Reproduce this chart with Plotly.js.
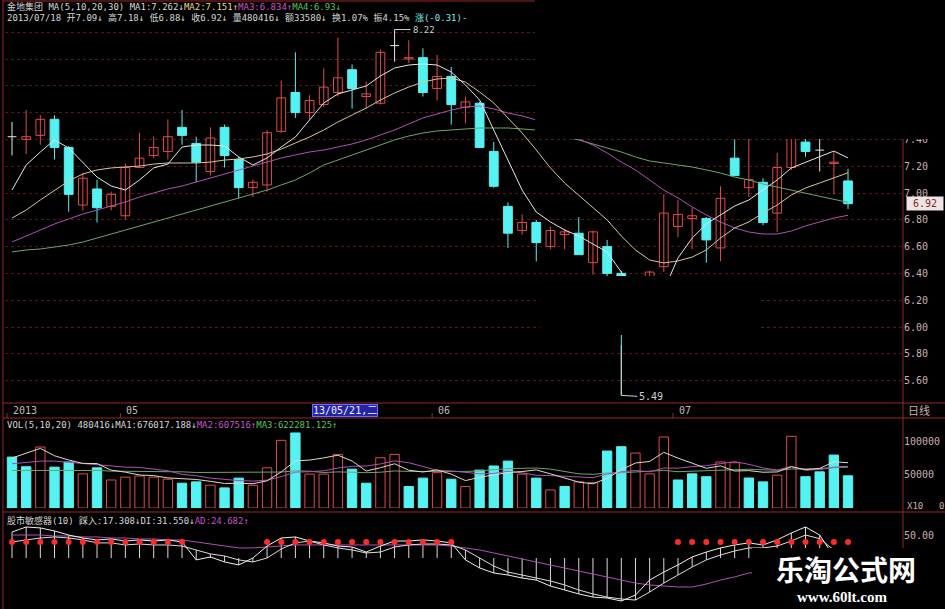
<!DOCTYPE html>
<html>
<head>
<meta charset="utf-8">
<script src="https://cdn.plot.ly/plotly-3.0.1.min.js"></script>
<style>
html,body{margin:0;padding:0;background:#000;}
#chart{width:945px;height:609px;}
</style>
</head>
<body>
<div id="chart"></div>
<script>
// ---- daily candles, 金地集团 (index 0 .. 59, last = 2013/07/18) ----
const opens  = [7.42,7.40,7.43,7.55,7.34,6.91,7.03,6.90,6.83,7.19,
                7.28,7.31,7.49,7.37,7.16,7.49,7.25,7.04,7.06,7.46,
                7.75,7.60,7.66,7.75,7.92,7.72,7.67,8.10,8.00,8.01,
                7.78,7.87,7.64,7.67,7.31,6.90,6.72,6.78,6.60,6.69,
                6.70,6.48,6.60,6.40,6.05,6.20,6.45,6.75,6.81,6.81,
                6.59,7.26,7.04,7.08,6.85,7.19,7.38,7.32,7.22,7.09];
const highs  = [7.53,7.62,7.58,7.58,7.35,7.15,7.10,7.01,7.22,7.45,
                7.42,7.55,7.62,7.42,7.49,7.51,7.27,7.10,7.47,7.84,
                8.05,7.73,7.93,8.16,7.96,7.83,8.07,8.22,8.14,8.08,
                8.03,7.94,7.72,7.68,7.38,6.93,6.84,6.80,6.75,6.73,
                6.82,6.72,6.65,6.42,6.33,6.42,6.99,6.95,6.89,6.82,
                7.05,7.40,7.42,7.11,7.30,7.62,7.50,7.42,7.31,7.18];
const lows   = [7.28,7.29,7.36,7.25,6.86,6.87,6.78,6.87,6.80,7.19,
                7.26,7.25,7.36,7.08,7.13,7.19,6.96,6.97,7.01,7.45,
                7.56,7.55,7.64,7.72,7.63,7.63,7.66,7.98,7.97,7.72,
                7.69,7.51,7.52,7.34,7.04,6.59,6.69,6.49,6.58,6.58,
                6.54,6.39,6.38,5.49,6.00,6.15,6.41,6.67,6.58,6.48,
                6.49,7.13,6.97,6.76,6.71,7.17,7.27,7.16,6.99,6.88];
const closes = [7.42,7.42,7.55,7.34,6.99,7.11,6.89,6.99,7.19,7.26,
                7.34,7.42,7.43,7.23,7.41,7.28,7.04,7.08,7.45,7.71,
                7.60,7.69,7.79,7.86,7.78,7.74,8.05,8.10,8.01,7.75,
                7.87,7.66,7.68,7.34,7.05,6.70,6.78,6.63,6.72,6.71,
                6.54,6.71,6.40,6.00,6.30,6.41,6.85,6.84,6.83,6.65,
                6.96,7.13,7.10,6.78,7.19,7.54,7.31,7.32,7.23,6.92];

// price moving averages MA(5,10,20,30)
const ma5  = [7.022,7.209,7.306,7.396,7.336,7.231,7.119,7.052,7.022,7.097,
              7.187,7.216,7.343,7.358,7.358,7.351,7.269,7.209,7.261,7.343,
              7.418,7.545,7.672,7.739,7.769,7.799,7.873,7.933,7.955,7.963,
              7.955,7.903,7.806,7.694,7.470,7.246,7.022,6.858,6.784,6.724,
              6.679,6.619,6.560,6.410,6.276,6.201,6.276,6.515,6.664,6.769,
              6.836,6.903,6.948,7.022,7.097,7.187,7.231,7.269,7.313,7.262];
const ma10 = [6.813,6.873,6.948,7.022,7.090,7.142,7.172,7.187,7.194,7.201,
              7.216,7.224,7.224,7.224,7.231,7.246,7.254,7.269,7.291,7.328,
              7.373,7.418,7.470,7.530,7.582,7.634,7.694,7.746,7.791,7.828,
              7.851,7.858,7.828,7.754,7.672,7.560,7.448,7.321,7.187,7.075,
              6.985,6.888,6.799,6.679,6.575,6.500,6.478,6.493,6.522,6.575,
              6.664,6.739,6.784,6.851,6.910,6.985,7.037,7.075,7.112,7.151];
const ma20 = [6.634,6.679,6.724,6.769,6.806,6.843,6.873,6.903,6.933,6.970,
              7.000,7.030,7.052,7.082,7.112,7.142,7.172,7.201,7.231,7.261,
              7.284,7.306,7.321,7.343,7.366,7.396,7.433,7.470,7.515,7.560,
              7.590,7.619,7.642,7.649,7.627,7.597,7.575,7.545,7.493,7.448,
              7.403,7.358,7.299,7.231,7.172,7.097,7.022,6.963,6.896,6.836,
              6.784,6.739,6.709,6.694,6.694,6.716,6.754,6.784,6.813,6.834];
const ma30 = [6.560,6.575,6.582,6.597,6.612,6.634,6.664,6.694,6.724,6.754,
              6.784,6.813,6.843,6.873,6.903,6.933,6.963,6.993,7.022,7.060,
              7.097,7.149,7.209,7.246,7.284,7.321,7.358,7.396,7.425,7.448,
              7.463,7.470,7.478,7.485,7.485,7.485,7.478,7.470,7.448,7.418,
              7.396,7.366,7.336,7.306,7.269,7.239,7.224,7.209,7.194,7.172,
              7.149,7.119,7.097,7.067,7.045,7.022,7.000,6.978,6.955,6.930];

// volume (lots) and its MA(5,10,20); 1 = up bar (hollow red), 0 = down bar (cyan)
const volume = [760000,616000,910000,610000,686000,510000,600000,418000,460000,478000,
                460000,430000,370000,390000,340000,300000,446000,340000,600000,1010000,
                1120000,506000,506000,800000,580000,370000,750000,800000,320000,446000,
                527000,430000,320000,566000,627000,700000,506000,446000,270000,320000,
                390000,378000,850000,915000,820000,510000,1060000,418000,510000,467000,
                687000,676000,448000,390000,490000,1070000,467000,540000,790000,480416];
const volUp  = [0,0,1,0,0,1,0,1,1,1, 1,1,0,0,1,0,0,1,1,1,
                0,1,1,1,0,0,1,1,0,0, 1,0,1,0,0,0,1,0,1,0,
                1,1,0,0,1,1,1,0,0,0, 1,1,0,0,1,1,0,0,0,0];
const volMa5  = [746000,820000,890000,780000,716000,666000,663000,565000,535000,493000,
                 483000,449000,440000,426000,398000,366000,369000,363000,405000,539000,
                 703000,715000,748000,788000,702000,552000,601000,660000,564000,537000,
                 569000,505000,409000,458000,494000,529000,544000,569000,510000,448000,
                 386000,361000,442000,571000,671000,695000,831000,745000,664000,593000,
                 628000,552000,558000,534000,538000,615000,573000,591000,690000,676017.188];
const volMa10 = [660000,680000,700000,700000,680000,660000,640000,620000,610000,605000,
                 575000,556000,503000,481000,446000,425000,409000,402000,416000,469000,
                 535000,542000,556000,597000,621000,628000,658000,704000,676000,620000,
                 561000,553000,535000,511000,516000,549000,525000,489000,484000,471000,
                 458000,453000,506000,541000,560000,541000,596000,594000,618000,632000,
                 662000,692000,652000,599000,566000,622000,563000,575000,603000,607516];
const volMa20 = [560000,560000,570000,570000,570000,560000,560000,550000,550000,550000,
                 540000,540000,540000,530000,530000,530000,530000,530000,532000,537000,
                 555000,549000,530000,539000,534000,527000,534000,553000,546000,545000,
                 548000,548000,546000,554000,569000,589000,592000,597000,580000,546000,
                 510000,503000,521000,526000,538000,545000,561000,542000,551000,552000,
                 560000,573000,579000,570000,563000,582000,580000,585000,611000,622281.125];

// 股市敏感器(10): 踩入, DI, AD lines and the red signal dots
const caiRu  = [52.9,56.6,55.9,53.7,50.7,48.5,47.1,47.8,46.3,47.1,
                46.3,47.1,45.6,32.4,34.6,30.9,28.7,33.8,42.6,48.5,
                49.3,46.3,44.9,42.6,41.9,38.2,42.6,46.3,46.3,47.1,
                46.3,44.9,32.4,26.5,22.8,21.3,19.1,17.6,13.2,10.3,
                7.4,5.1,4.4,2.2,6.6,17.6,23.5,28.7,34.6,38.2,
                41.2,43.4,44.9,43.4,47.1,52.2,56.6,50.7,35.0,17.308];
const diLine = [45.6,47.1,48.5,49.3,48.5,47.1,44.9,44.9,43.4,44.1,
                43.4,43.4,42.6,39.7,36.8,35.3,32.4,30.9,33.8,40.4,
                44.9,46.3,43.4,41.2,39.7,37.5,38.2,41.9,43.4,44.1,
                44.1,43.4,39.7,33.8,27.9,23.5,21.3,19.1,16.9,14.0,
                10.3,7.4,5.1,3.7,2.9,8.8,15.4,21.3,27.2,32.4,
                36.0,39.0,41.2,41.2,42.6,46.3,50.7,48.0,40.0,31.55];
const adLine = [50.7,50.7,50.7,50.0,50.0,49.3,49.3,48.5,48.5,47.8,
                47.8,47.1,47.1,45.6,44.1,42.6,41.2,41.2,41.9,42.6,
                43.4,43.4,43.4,43.4,43.4,43.4,43.4,43.4,43.4,43.4,
                43.4,42.6,41.2,39.7,37.5,35.3,33.1,30.9,28.7,26.5,
                24.3,22.1,19.9,17.6,15.4,14.0,13.2,12.5,12.5,14.7,
                17.6,19.9,22.8,23.3,23.7,24.0,24.3,24.5,24.6,24.682];
const dotOn  = [1,1,1,1,1,1,1,1,1,1, 1,1,1,0,0,0,0,0,1,1,
                1,1,1,1,1,1,1,1,1,1, 1,1,0,0,0,0,0,0,0,0,
                0,0,0,0,0,0,0,1,1,1, 1,1,1,1,1,1,1,1,1,1];

// axis labels
const dateTickIdx  = [0, 8, 30, 47];
const dateTickText = ['2013', '05', '06', '07'];
const cursorIdx = 21, cursorText = '13/05/21,二';
const priceTicks = [5.6,5.8,6.0,6.2,6.4,6.6,6.8,7.0,7.2,7.4,7.6,7.8,8.0,8.2];
const volTicks = [50000, 100000];
const stockName = '金地集团', lastDate = '2013/07/18';
const lastAmount = 33580, lastTurnover = 1.07;

// ---- drawing ----
const W = 945, H = 609;
const px = x => x / W, py = y => 1 - y / H;
const N = closes.length;
const idx = closes.map((_, i) => i);
const CYAN = '#56f2f2', RED = '#e04a4a', WHITE = '#e6e6e6', TAN = '#d8c49a',
      PURPLE = '#b050b8', GREEN = '#6aa865', GRID = '#5a1616', FRAME = '#9a2626',
      TXT = '#d6d6d6', AXT = '#c8b0b0';
const FONT = 'DejaVu Sans Mono, Noto Sans CJK SC, monospace';
const STICK_BASE = 33.8, DOT_LEVEL = 45.6;

const isUp = i => closes[i] > opens[i];
const isDown = i => closes[i] < opens[i];
const isFlat = i => closes[i] === opens[i];

function wicks(sel, color) {
  const x = [], y = [];
  for (let i = 0; i < N; i++) if (sel(i)) { x.push(i, i, null); y.push(lows[i], highs[i], null); }
  return {type: 'scatter', mode: 'lines', x, y, xaxis: 'x', yaxis: 'y', line: {color, width: 1}, hoverinfo: 'skip'};
}
const bx = [], bBase = [], bLen = [], bFill = [], bLine = [];
for (let i = 0; i < N; i++) {
  if (isFlat(i)) continue;
  bx.push(i);
  bBase.push(Math.min(opens[i], closes[i]));
  bLen.push(Math.abs(closes[i] - opens[i]));
  bFill.push(isUp(i) ? '#000' : CYAN);
  bLine.push(isUp(i) ? RED : CYAN);
}
const dx = [], dy = [];
for (let i = 0; i < N; i++) if (isFlat(i)) { dx.push(i - 0.31, i + 0.31, null); dy.push(opens[i], opens[i], null); }

const maLine = (y, color, yaxis) => ({type: 'scatter', mode: 'lines', x: idx, y, xaxis: 'x', yaxis,
  line: {color, width: 1}, hoverinfo: 'skip'});

// indicator sticks between the base level and the two lines
const sx = [], sy = [];
for (let i = 0; i < N; i++) {
  const lo = Math.min(STICK_BASE, caiRu[i], diLine[i]);
  const hi = Math.max(STICK_BASE, caiRu[i], diLine[i]);
  sx.push(i, i, null); sy.push(lo, hi, null);
}
const dotX = idx.filter(i => dotOn[i]);

const traces = [
  wicks(isUp, RED), wicks(isDown, CYAN), wicks(isFlat, WHITE),
  {type: 'bar', x: bx, base: bBase, y: bLen, xaxis: 'x', yaxis: 'y', width: 0.62,
   marker: {color: bFill, line: {color: bLine, width: 1}}, hoverinfo: 'skip'},
  {type: 'scatter', mode: 'lines', x: dx, y: dy, xaxis: 'x', yaxis: 'y', line: {color: WHITE, width: 1}, hoverinfo: 'skip'},
  maLine(ma30, GREEN, 'y'), maLine(ma20, PURPLE, 'y'), maLine(ma10, TAN, 'y'), maLine(ma5, WHITE, 'y'),

  {type: 'bar', x: idx, y: volume.map(v => v / 10), xaxis: 'x', yaxis: 'y2', width: 0.66,
   marker: {color: volUp.map(u => u ? '#000' : CYAN), line: {color: volUp.map(u => u ? RED : CYAN), width: 1}},
   hoverinfo: 'skip'},
  maLine(volMa20.map(v => v / 10), GREEN, 'y2'),
  maLine(volMa10.map(v => v / 10), PURPLE, 'y2'),
  maLine(volMa5.map(v => v / 10), '#e2d8c8', 'y2'),

  {type: 'scatter', mode: 'lines', x: sx, y: sy, xaxis: 'x', yaxis: 'y3', line: {color: '#d8d8d8', width: 1}, hoverinfo: 'skip'},
  maLine(adLine, PURPLE, 'y3'),
  maLine(diLine, '#dcdcdc', 'y3'),
  maLine(caiRu, '#f0f0f0', 'y3'),
  {type: 'scatter', mode: 'markers', x: dotX, y: dotX.map(() => DOT_LEVEL), xaxis: 'x', yaxis: 'y3',
   marker: {color: '#ff2a2a', size: 6}, hoverinfo: 'skip'}
];

// number formatting as shown by the trading terminal
const trim = v => v.toFixed(3).replace(/\.?0+$/, '');
const dir = a => a[N - 1] >= a[N - 2] ? '↑' : '↓';
const span = (t, c) => `<span style="color:${c}">${t}</span>`;
const L = N - 1;
const prevClose = closes[L - 1];
const change = closes[L] - prevClose;
const amplitude = (highs[L] - lows[L]) / prevClose * 100;

const head1 = span(`${stockName} MA(5,10,20,30) MA1:${trim(ma5[L])}${dir(ma5)}`, TXT) +
  span(`MA2:${trim(ma10[L])}${dir(ma10)}`, '#e6d48a') +
  span(`MA3:${trim(ma20[L])}${dir(ma20)}`, '#d050d0') +
  span(`MA4:${trim(ma30[L])}${dir(ma30)}`, '#58c058');
const head2 = span(`${lastDate} 开${opens[L].toFixed(2)}${dir(opens)} 高${highs[L].toFixed(2)}${dir(highs)} ` +
  `低${lows[L].toFixed(2)}${dir(lows)} 收${closes[L].toFixed(2)}${dir(closes)} 量${volume[L]}${dir(volume)} ` +
  `额${lastAmount}↓ 换${lastTurnover.toFixed(2)}% 振${amplitude.toFixed(2)}% `, TXT) +
  span(`涨(${change.toFixed(2)})-`, '#7ee8e8');
const volHead = span(`VOL(5,10,20) ${volume[L]}${dir(volume)}MA1:${trim(volMa5[L])}${dir(volMa5)}`, TXT) +
  span(`MA2:${trim(volMa10[L])}${dir(volMa10)}`, '#c850c8') +
  span(`MA3:${trim(volMa20[L])}${dir(volMa20)}`, '#58c058');
const indHead = span(`股市敏感器(10) 踩入:${caiRu[L].toFixed(3)}${dir(caiRu)}DI:${diLine[L].toFixed(3)}${dir(diLine)}`, TXT) +
  span(`AD:${adLine[L].toFixed(3)}${dir(adLine)}`, '#c850c8');

const iMax = highs.indexOf(Math.max(...highs));
const iMin = lows.indexOf(Math.min(...lows));

const textAnn = (x, y, text, opt) => Object.assign({xref: 'paper', yref: 'paper', x, y, text, showarrow: false,
  xanchor: 'left', yanchor: 'middle', font: {family: FONT, size: 10, color: TXT}}, opt || {});
const HEAD_FONT = {family: FONT, size: 9, color: TXT};

const annotations = [
  textAnn(px(5), py(7), head1, {font: HEAD_FONT}),
  textAnn(px(5), py(18), head2, {font: HEAD_FONT}),
  textAnn(px(5), py(425), volHead, {font: HEAD_FONT}),
  textAnn(px(5), py(520), indHead, {font: HEAD_FONT}),
  textAnn(px(906), py(411), '日线', {font: {family: FONT, size: 11, color: AXT}}),
  textAnn(px(905), py(506), 'X10', {font: {family: FONT, size: 9, color: AXT}}),
  textAnn(px(937), py(506), '0', {font: {family: FONT, size: 9, color: AXT}}),
  // last price tag
  {xref: 'paper', yref: 'y', x: px(906), y: closes[L], text: closes[L].toFixed(2), showarrow: false,
   xanchor: 'left', yanchor: 'middle', bgcolor: '#eee4e4', borderpad: 1, width: 34,
   font: {family: FONT, size: 10, color: '#7a2a2a'}},
  // highest and lowest marks
  {xref: 'x', yref: 'y', x: iMax, y: highs[iMax], text: highs[iMax].toFixed(2), showarrow: true,
   arrowhead: 0, arrowwidth: 1, arrowcolor: '#cfcfcf', ax: 16, ay: 0, xanchor: 'left', yanchor: 'middle',
   font: {family: FONT, size: 9, color: '#cfcfcf'}},
  {xref: 'x', yref: 'y', x: iMin, y: lows[iMin], text: ' ', showarrow: true,
   arrowhead: 0, arrowwidth: 1, arrowcolor: '#cfcfcf', ax: 0, ay: -60},
  {xref: 'x', yref: 'y', x: iMin, y: lows[iMin], text: lows[iMin].toFixed(2), showarrow: true,
   arrowhead: 0, arrowwidth: 1, arrowcolor: '#cfcfcf', ax: 16, ay: 1, xanchor: 'left',
   font: {family: FONT, size: 10, color: '#cfcfcf'}},
  // cursor date
  {xref: 'x', yref: 'paper', x: cursorIdx + 0.15, y: py(411), text: cursorText, showarrow: false,
   xanchor: 'left', yanchor: 'middle', bgcolor: '#2424a6', bordercolor: '#6a6aff', borderwidth: 1, borderpad: 0,
   font: {family: FONT, size: 10, color: '#f0f0ff'}},
  // watermark
  textAnn(px(846), py(569), '<b>乐淘公式网</b>', {xanchor: 'center',
    font: {family: 'Noto Sans CJK SC', size: 28, color: '#ffffff'}}),
  textAnn(px(842), py(597), '<b>www.60lt.com</b>', {xanchor: 'center',
    font: {family: 'Liberation Serif', size: 15, color: '#ffffff'}})
];
dateTickIdx.forEach((d, k) => annotations.push({xref: 'x', yref: 'paper', x: d - 0.1, y: py(411),
  text: dateTickText[k], showarrow: false, xanchor: 'left', yanchor: 'middle',
  font: {family: FONT, size: 10, color: '#bdbdbd'}}));

const rect = (x0, y0, x1, y1, fill) => ({type: 'rect', xref: 'paper', yref: 'paper', layer: 'above',
  x0: px(x0), x1: px(x1), y0: py(y1), y1: py(y0), fillcolor: fill, line: {width: 0}});
const hline = (y, x0, x1) => ({type: 'line', xref: 'paper', yref: 'paper', layer: 'above',
  x0: px(x0), x1: px(x1), y0: py(y), y1: py(y), line: {color: FRAME, width: 1}});
const vline = (x, y0, y1) => ({type: 'line', xref: 'paper', yref: 'paper', layer: 'above',
  x0: px(x), x1: px(x), y0: py(y0), y1: py(y1), line: {color: FRAME, width: 1}});

const shapes = [
  rect(535, 0, 945, 139, '#000'),
  rect(540, 276, 760, 335, '#000'),
  vline(3, 0, 609),
  vline(903, 139, 609),
  hline(1, 3, 535),
  hline(403, 3, 945),
  hline(418, 3, 945),
  hline(512, 3, 945),
  rect(752, 548, 945, 609, '#000')
];
dateTickIdx.forEach(d => shapes.push({type: 'line', xref: 'x', yref: 'paper', layer: 'above',
  x0: d - 0.35, x1: d - 0.35, y0: py(418), y1: py(413), line: {color: '#8a3030', width: 1}}));

const yCommon = {side: 'right', anchor: 'x', zeroline: false, showline: false, ticks: '',
  tickfont: {family: FONT, size: 10, color: AXT}, fixedrange: true};

const layout = {
  width: W, height: H, margin: {l: 0, r: 0, t: 0, b: 0},
  paper_bgcolor: '#000', plot_bgcolor: '#000', showlegend: false, hovermode: false,
  barmode: 'overlay',
  xaxis: {domain: [px(5), px(903)], range: [-0.494, 62.88], anchor: 'y', showgrid: false,
    zeroline: false, showline: false, showticklabels: false, ticks: '', fixedrange: true},
  yaxis: Object.assign({}, yCommon, {domain: [py(403), py(18)],
    range: [7 + (193 - 403) / 134, 7 + (193 - 18) / 134],
    tickvals: priceTicks, ticktext: priceTicks.map(v => v.toFixed(2)),
    showgrid: true, gridcolor: GRID, gridwidth: 1, griddash: 'dot'}),
  yaxis2: Object.assign({}, yCommon, {domain: [py(508), py(418)], range: [0, 134328],
    tickvals: volTicks, ticktext: volTicks.map(String), showgrid: false}),
  yaxis3: Object.assign({}, yCommon, {domain: [py(606), py(524)], range: [-1.47, 58.8],
    tickvals: [50], ticktext: ['50.00'], showgrid: false}),
  shapes, annotations
};

Plotly.newPlot('chart', traces, layout, {staticPlot: true, displayModeBar: false});
</script>
</body>
</html>
